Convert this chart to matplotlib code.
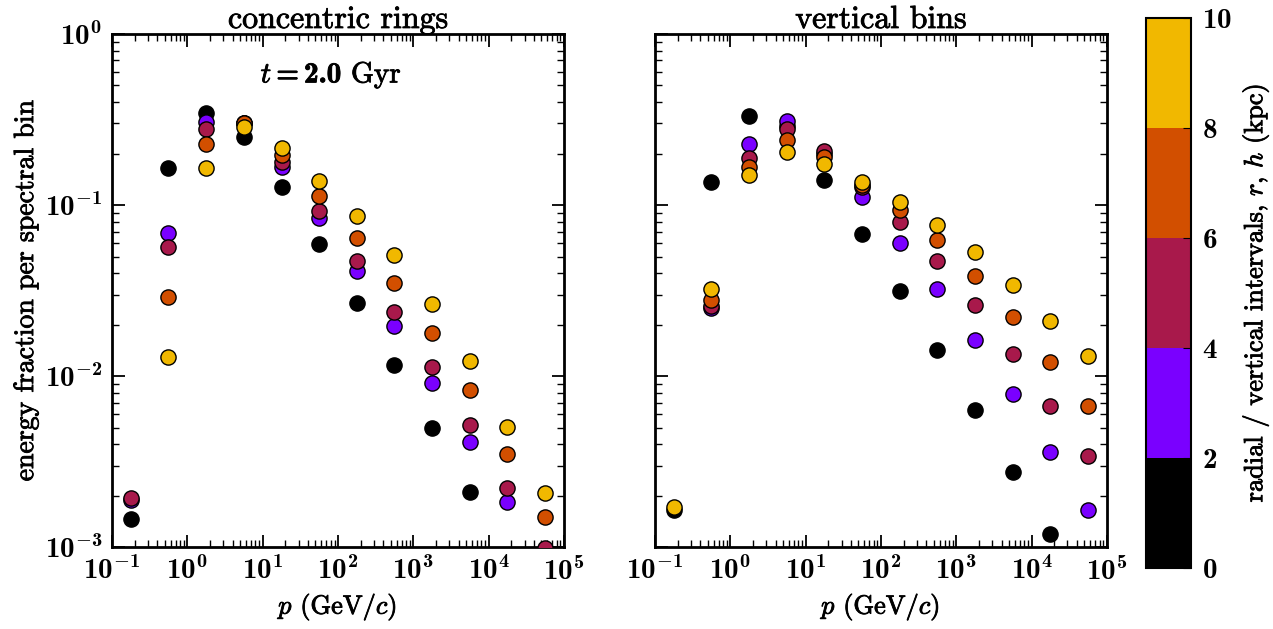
import matplotlib
matplotlib.use("Agg")
import matplotlib.pyplot as plt
import matplotlib.patheffects as pe
import matplotlib.ticker as mticker
import numpy as np
from matplotlib.colors import ListedColormap, BoundaryNorm
from matplotlib.cm import ScalarMappable

plt.rcParams['font.family'] = 'cmr10'
plt.rcParams['mathtext.fontset'] = 'custom'
plt.rcParams['mathtext.rm'] = 'cmb10'
plt.rcParams['mathtext.bf'] = 'cmb10'
plt.rcParams['mathtext.it'] = 'cmmi10'
plt.rcParams['axes.formatter.use_mathtext'] = True
plt.rcParams['axes.linewidth'] = 2

nan = np.nan
# momentum bin centres (GeV/c)
p = [0.178, 0.562, 1.78, 5.62, 17.8, 56.2, 178, 562, 1780, 5620, 17800, 56200]

# concentric rings, t = 2 Gyr
rings_0_2 = [1.47e-3, 0.164, 0.347, 0.249, 0.127, 0.0594, 0.0267, 0.0116, 0.00499, 0.00211, nan, nan]
rings_2_4 = [1.9e-3, 0.0687, 0.304, 0.30, 0.168, 0.0839, 0.0410, 0.0196, 0.00914, 0.00413, 0.00184, nan]
rings_4_6 = [1.93e-3, 0.0565, 0.279, 0.30, 0.178, 0.0929, 0.0473, 0.0236, 0.01127, 0.00515, 0.00223, 0.00099]
rings_6_8 = [nan, 0.0290, 0.227, 0.301, 0.197, 0.113, 0.0645, 0.0350, 0.0179, 0.00827, 0.00353, 0.00151]
rings_8_10 = [nan, 0.0129, 0.164, 0.284, 0.215, 0.139, 0.0866, 0.0508, 0.0265, 0.01228, 0.00506, 0.00208]

# vertical bins
bins_0_2 = [1.66e-3, 0.1355, 0.332, 0.29, 0.1406, 0.0673, 0.0313, 0.01425, 0.00636, 0.00277, 0.00119, nan]
bins_2_4 = [nan, 0.025, 0.228, 0.312, 0.20, 0.111, 0.0602, 0.0322, 0.01637, 0.00784, 0.00360, 0.00166]
bins_4_6 = [nan, 0.0258, 0.188, 0.278, 0.208, 0.127, 0.0792, 0.0469, 0.0261, 0.01355, 0.00673, 0.00340]
bins_6_8 = [nan, 0.0280, 0.166, 0.240, 0.192, 0.131, 0.0939, 0.0625, 0.0387, 0.0223, 0.01211, 0.00673]
bins_8_10 = [1.72e-3, 0.0323, 0.149, 0.204, 0.174, 0.136, 0.1035, 0.0764, 0.0529, 0.0341, 0.0209, 0.01306]

bounds = [0, 2, 4, 6, 8, 10]
colors = ['#000000', '#7a00ff', '#a8194b', '#d24f00', '#f1b800']
xdecades = [-1, 0, 1, 2, 3, 4, 5]
ydecades = [-3, -2, -1, 0]

# slightly heavier strokes for the CM text
heavy = [pe.withStroke(linewidth=0.6, foreground='black')]
powfmt = mticker.FuncFormatter(lambda v, pos: r'$10^{%d}$' % round(np.log10(v)))

fig = plt.figure(figsize=(12.73, 6.29), dpi=100)
ax1 = fig.add_axes([0.088, 0.130, 0.355, 0.816])
ax2 = fig.add_axes([0.5145, 0.130, 0.355, 0.816])
cax = fig.add_axes([0.900, 0.097, 0.0354, 0.874])

panels = [(ax1, [rings_0_2, rings_2_4, rings_4_6, rings_6_8, rings_8_10], 'concentric rings'),
          (ax2, [bins_0_2, bins_2_4, bins_4_6, bins_6_8, bins_8_10], 'vertical bins')]

for ax, series, title in panels:
    for vals, c in zip(series, colors):
        ax.scatter(p, vals, s=120, c=c, edgecolors='black', linewidths=1, zorder=3)
    ax.set_xscale('log')
    ax.set_yscale('log')
    ax.set_xlim(1e-1, 1e5)
    ax.set_ylim(1e-3, 1e0)
    ax.set_xticks([10.0 ** d for d in xdecades])
    ax.set_yticks([10.0 ** d for d in ydecades])
    ax.xaxis.set_minor_locator(mticker.LogLocator(subs=np.arange(2, 10), numticks=20))
    ax.yaxis.set_minor_locator(mticker.LogLocator(subs=np.arange(2, 10), numticks=20))
    ax.xaxis.set_minor_formatter(mticker.NullFormatter())
    ax.yaxis.set_minor_formatter(mticker.NullFormatter())
    ax.xaxis.set_major_formatter(powfmt)
    ax.yaxis.set_major_formatter(powfmt)
    ax.set_title(title, fontsize=23, pad=4, path_effects=heavy)
    ax.set_xlabel(r'$p$ (GeV/$c$)', fontsize=19, path_effects=heavy)
    ax.tick_params(which='both', direction='in', top=True, right=True, labelsize=21, pad=7)
    ax.tick_params(which='major', length=9, width=1.3)
    ax.tick_params(which='minor', length=5, width=1)

ax2.tick_params(labelleft=False)
ax1.set_ylabel('energy fraction per spectral bin', fontsize=20, path_effects=heavy)
ax1.text(0.485, 0.92, r'$t = 2.0$ Gyr', transform=ax1.transAxes, fontsize=21,
         ha='center', va='center', path_effects=heavy)

cmap = ListedColormap(colors)
norm = BoundaryNorm(bounds, cmap.N)
sm = ScalarMappable(norm=norm, cmap=cmap)
cb = fig.colorbar(sm, cax=cax, ticks=bounds)
cb.outline.set_linewidth(1.5)
cb.ax.tick_params(direction='in', length=6, labelsize=21, labelfontfamily='cmb10', pad=8)
cb.set_label(r'radial / vertical intervals, $r$, $h$ (kpc)', fontsize=19, labelpad=6,
             path_effects=heavy)

fig.savefig('out.png', dpi=100)
